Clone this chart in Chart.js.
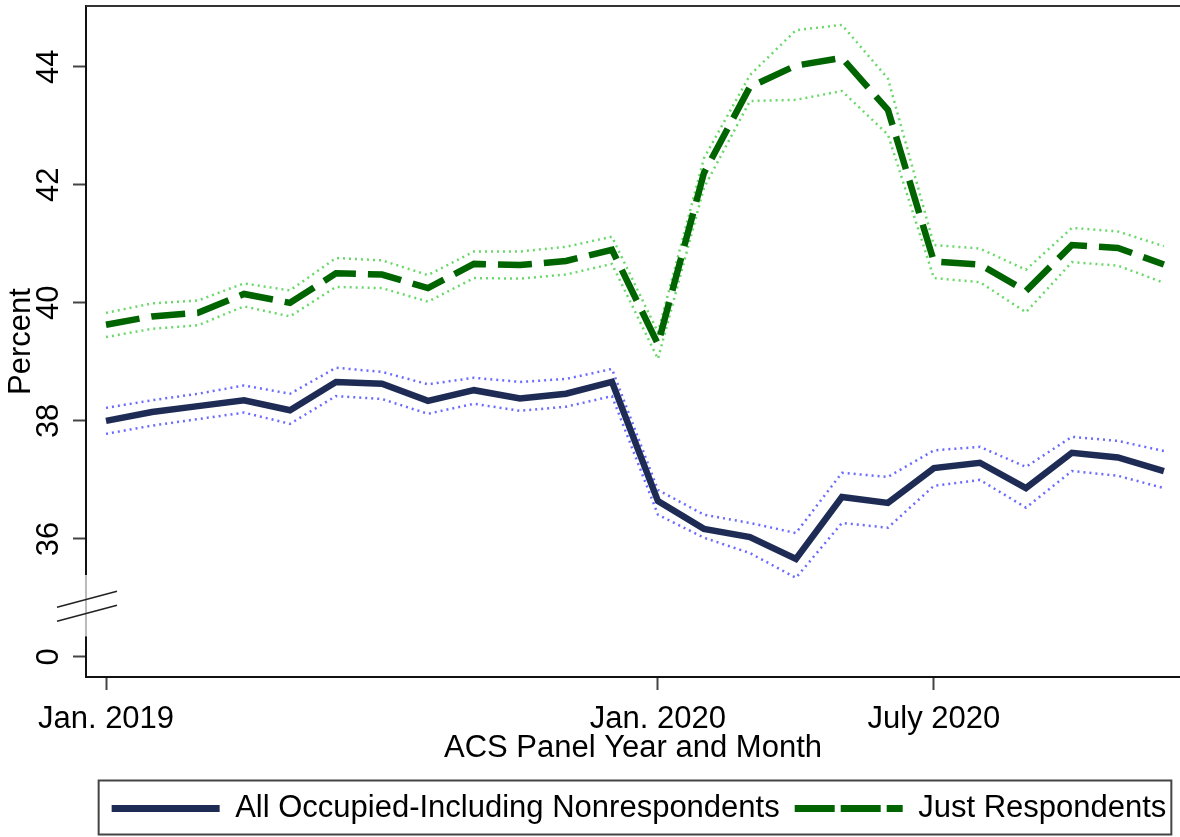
<!DOCTYPE html>
<html>
<head>
<meta charset="utf-8">
<script src="https://cdn.jsdelivr.net/npm/chart.js@4"></script>
<style>
  body { margin: 0; background: #fff; }
  canvas { display: block; }
</style>
</head>
<body>
<canvas id="acs-chart" width="1180" height="837"></canvas>
<script>
// month index 0 = Jan. 2019 ... 23 = Dec. 2020
const months = [0,1,2,3,4,5,6,7,8,9,10,11,12,13,14,15,16,17,18,19,20,21,22,23];
const xTickValues = [0, 12, 18];
const xTickLabels = ['Jan. 2019', 'Jan. 2020', 'July 2020'];

// broken y axis: the "0" tick sits where 34 would be
const yTickValues = [34, 36, 38, 40, 42, 44];
const yTickLabels = ['0', '36', '38', '40', '42', '44'];
const breakAt = 34.86;

const allOccupied   = [38.00,38.15,38.25,38.35,38.18,38.66,38.63,38.34,38.52,38.38,38.46,38.66,36.64,36.17,36.03,35.66,36.71,36.61,37.20,37.29,36.86,37.46,37.38,37.15];
const allOccupiedHi = [38.22,38.35,38.46,38.60,38.46,38.90,38.83,38.62,38.73,38.66,38.71,38.88,36.83,36.41,36.27,36.10,37.12,37.05,37.50,37.56,37.22,37.73,37.66,37.49];
const allOccupiedLo = [37.78,37.92,38.03,38.14,37.95,38.42,38.37,38.12,38.29,38.17,38.24,38.42,36.41,36.02,35.76,35.34,36.27,36.19,36.90,37.00,36.53,37.15,37.07,36.86];

const respondents   = [39.63,39.77,39.83,40.15,40.00,40.50,40.48,40.25,40.66,40.64,40.71,40.90,39.30,42.20,43.66,44.02,44.15,43.27,40.70,40.65,40.20,40.98,40.93,40.65];
const respondentsHi = [39.83,39.99,40.04,40.33,40.21,40.76,40.72,40.47,40.87,40.87,40.95,41.12,39.50,42.45,43.86,44.62,44.71,43.80,40.98,40.92,40.56,41.27,41.21,40.96];
const respondentsLo = [39.42,39.56,39.62,39.94,39.77,40.27,40.25,40.02,40.42,40.41,40.48,40.66,39.05,41.95,43.42,43.44,43.59,42.85,40.42,40.35,39.84,40.69,40.63,40.34];

const navy = '#1e2c55';
const green = '#006400';
const blueDot = '#6b6bff';
const greenDot = '#6ad86a';

function pts(arr) {
    return arr.map((v, i) => ({ x: months[i], y: v }));
}

Chart.defaults.font.family = "'Liberation Sans', Arial, sans-serif";
Chart.defaults.font.size = 31;
Chart.defaults.color = '#000';

const frame = {
    id: 'frame',
    afterLayout(chart) {
        // legend items sit a bit right of the plot centre
        chart.legend.left += 6;
        chart.legend.right += 6;
    },
    afterDraw(chart) {
        const ctx = chart.ctx;
        const area = chart.chartArea;
        const y = chart.scales.y;
        ctx.save();
        // top outline of the plot region
        ctx.strokeStyle = '#333';
        ctx.lineWidth = 2;
        ctx.beginPath();
        ctx.moveTo(area.left, area.top);
        ctx.lineTo(area.right, area.top);
        ctx.stroke();

        // axis break
        const yb = y.getPixelForValue(breakAt);
        const ax = area.left;
        ctx.fillStyle = '#fff';
        ctx.fillRect(ax - 3, yb - 31, 6, 61);
        ctx.strokeStyle = '#bbb';
        ctx.lineWidth = 2;
        ctx.beginPath();
        ctx.moveTo(ax, yb - 31);
        ctx.lineTo(ax, yb + 30);
        ctx.stroke();
        ctx.strokeStyle = '#222';
        ctx.lineWidth = 1.5;
        [-7, 7].forEach(d => {
            ctx.beginPath();
            ctx.moveTo(ax - 29, yb + d + 8);
            ctx.lineTo(ax + 31, yb + d - 8);
            ctx.stroke();
        });

        // legend box
        const boxes = chart.legend.legendHitBoxes;
        if (boxes && boxes.length) {
            const first = boxes[0];
            const last = boxes[boxes.length - 1];
            ctx.strokeStyle = '#444';
            ctx.lineWidth = 2;
            ctx.strokeRect(first.left - 13, first.top - 12.5,
                last.left + last.width + 5 - (first.left - 13), first.height + 23);
        }
        ctx.restore();
    }
};

const ctx = document.getElementById('acs-chart').getContext('2d');
const myChart = new Chart(ctx, {
    type: 'line',
    data: {
        datasets: [{
            label: 'All Occupied-Including Nonrespondents',
            data: pts(allOccupied),
            borderColor: navy,
            borderWidth: 6.5,
            pointStyle: 'line'
        }, {
            label: 'Just Respondents',
            data: pts(respondents),
            borderColor: green,
            borderWidth: 6.5,
            borderDash: [34, 12],
            pointStyle: 'line'
        }, {
            label: 'upper',
            data: pts(allOccupiedHi),
            borderColor: blueDot,
            borderWidth: 2.5,
            borderDash: [2, 4]
        }, {
            label: 'lower',
            data: pts(allOccupiedLo),
            borderColor: blueDot,
            borderWidth: 2.5,
            borderDash: [2, 4]
        }, {
            label: 'upper',
            data: pts(respondentsHi),
            borderColor: greenDot,
            borderWidth: 2.5,
            borderDash: [2, 4]
        }, {
            label: 'lower',
            data: pts(respondentsLo),
            borderColor: greenDot,
            borderWidth: 2.5,
            borderDash: [2, 4]
        }]
    },
    options: {
        responsive: false,
        animation: false,
        layout: {
            autoPadding: false,
            padding: { top: 6, left: 0, right: 0, bottom: 3 }
        },
        elements: {
            point: { radius: 0, hoverRadius: 0 },
            line: { tension: 0, fill: false }
        },
        plugins: {
            tooltip: { enabled: false },
            legend: {
                position: 'bottom',
                fullSize: false,
                labels: {
                    usePointStyle: true,
                    pointStyleWidth: 108,
                    padding: 15,
                    font: { size: 31 },
                    generateLabels: chart => {
                        const items = Chart.defaults.plugins.legend.labels.generateLabels(chart);
                        items.forEach(item => {
                            const ds = chart.data.datasets[item.datasetIndex];
                            item.lineDash = ds.borderDash ? [40, 6] : [];
                            item.lineWidth = 7;
                        });
                        return items;
                    },
                    filter: item => item.datasetIndex < 2
                }
            }
        },
        scales: {
            x: {
                type: 'linear',
                min: -0.435,
                max: 23.35,
                afterBuildTicks: s => { s.ticks = xTickValues.map(v => ({ value: v })); },
                afterFit: s => { s.height = 101; s.paddingLeft = 0; s.paddingRight = 0; },
                ticks: {
                    padding: 11,
                    maxRotation: 0,
                    callback: v => xTickLabels[xTickValues.indexOf(v)]
                },
                grid: {
                    drawOnChartArea: false,
                    drawTicks: true,
                    tickLength: 13,
                    tickWidth: 2,
                    tickColor: '#444'
                },
                border: { display: true, color: '#111', width: 2 },
                title: {
                    display: true,
                    text: 'ACS Panel Year and Month',
                    padding: { top: 0, bottom: 11 }
                }
            },
            y: {
                min: 33.66,
                max: 45.03,
                afterBuildTicks: s => { s.ticks = yTickValues.map(v => ({ value: v })); },
                afterFit: s => { s.width = 86; s.paddingTop = 0; s.paddingBottom = 0; },
                ticks: {
                    minRotation: 90,
                    maxRotation: 90,
                    crossAlign: 'center',
                    padding: 6,
                    callback: v => yTickLabels[yTickValues.indexOf(v)]
                },
                grid: {
                    drawOnChartArea: false,
                    drawTicks: true,
                    tickLength: 13,
                    tickWidth: 2,
                    tickColor: '#444'
                },
                border: { display: true, color: '#111', width: 2 },
                title: {
                    display: true,
                    text: 'Percent',
                    padding: { top: 3, bottom: 0 }
                }
            }
        }
    },
    plugins: [frame]
});
</script>
</body>
</html>
